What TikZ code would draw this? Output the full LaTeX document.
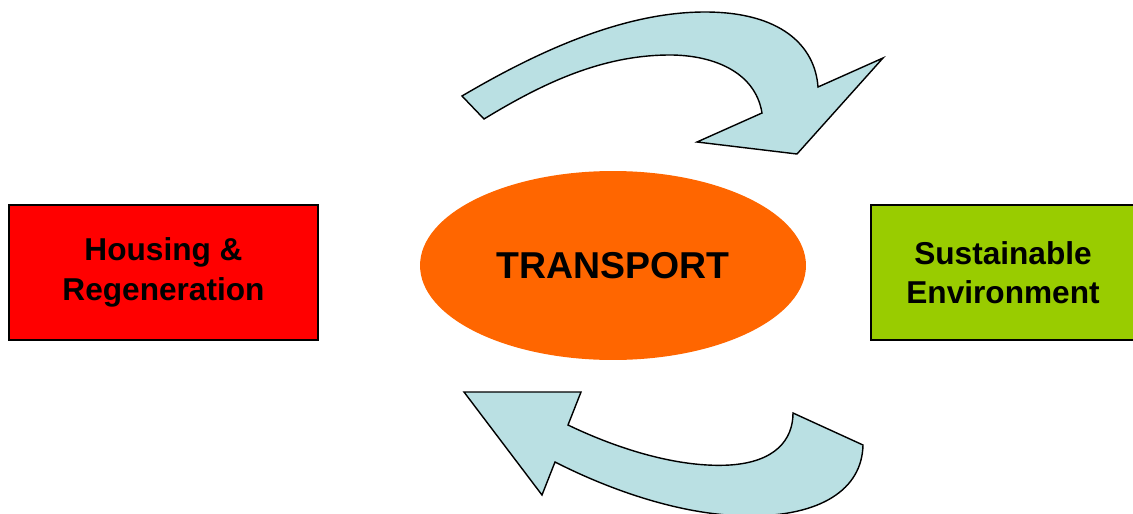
\documentclass[tikz,border=0pt]{standalone}
\usepackage{fontspec}
\setmainfont{Liberation Sans}
\usetikzlibrary{shapes.geometric}
\definecolor{housered}{HTML}{FF0000}
\definecolor{envgreen}{HTML}{99CC00}
\definecolor{transorange}{HTML}{FF6600}
\definecolor{cycleblue}{HTML}{BAE0E3}
\tikzset{
  areabox/.style={rectangle, draw=black, line width=0.85pt, minimum height=2.7cm, align=center, font=\fontsize{18}{22.4}\selectfont\bfseries},
  hub/.style={ellipse, fill=transorange, minimum width=7.72cm, minimum height=3.78cm, inner sep=0pt, font=\fontsize{21.3}{25}\selectfont\bfseries},
  bentarrow/.style={fill=cycleblue, draw=black, line width=0.8pt, line join=miter}
}
\begin{document}
\begin{tikzpicture}[x=0.02cm, y=-0.02cm]
  \useasboundingbox (0,0) rectangle (1133,514);

  \node[areabox, fill=housered, minimum width=6.18cm] (housing) at (163.5,272.5) {Housing \&\\Regeneration};
  \node[hub] (transport) at (613,265.5) {TRANSPORT};
  \node[areabox, fill=envgreen, minimum width=5.28cm] (environment) at (1003,272.5) {Sustainable\\Environment};

  % upper arrow, bending right
  \draw[bentarrow] (462,96) .. controls (540,50) and (625,12) .. (705,12)
    .. controls (780,12) and (815,45) .. (818,87)
    -- (883,58) -- (797,154) -- (697,142) -- (762,113)
    .. controls (755,70) and (710,55) .. (670,55)
    .. controls (600,55) and (540,85) .. (484,119) -- cycle;

  % lower arrow, bending back left
  \draw[bentarrow] (464,392) -- (581,392) -- (568,425)
    .. controls (620,450) and (680,468) .. (730,465)
    .. controls (775,462) and (793,440) .. (793,413)
    -- (863,445)
    .. controls (862,490) and (820,516) .. (750,516)
    .. controls (690,516) and (620,495) .. (555,462)
    -- (542,495) -- cycle;
\end{tikzpicture}
\end{document}
